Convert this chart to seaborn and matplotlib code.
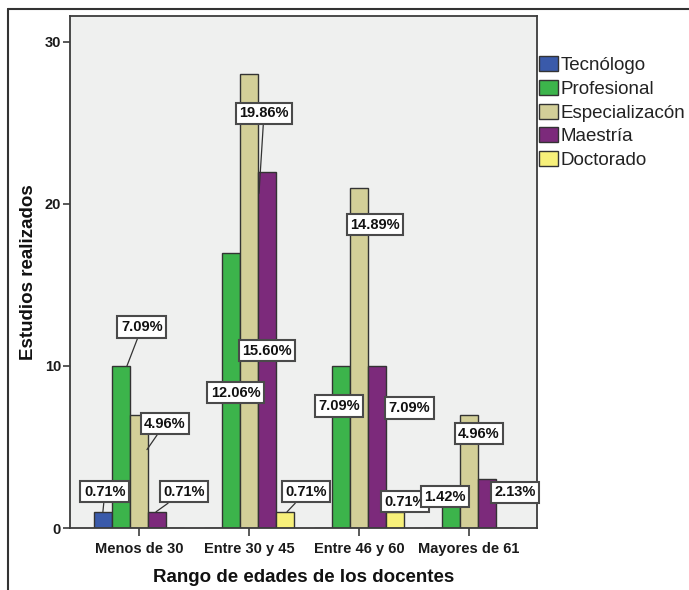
import numpy as np
import pandas as pd
import matplotlib
matplotlib.use("Agg")
import matplotlib.pyplot as plt
import seaborn as sns
from matplotlib.transforms import offset_copy
from matplotlib.lines import Line2D

# ---------------- data ----------------
categorias = ["Menos de 30", "Entre 30 y 45", "Entre 46 y 60", "Mayores de 61"]
niveles = ["Tecnólogo", "Profesional", "Especializacón", "Maestría", "Doctorado"]
tecnologo = [1, 0, 0, 0]
profesional = [10, 17, 10, 2]
especializacion = [7, 28, 21, 7]
maestria = [1, 22, 10, 3]
doctorado = [0, 1, 1, 0]
y_ticks = [0, 10, 20, 30]

series = [tecnologo, profesional, especializacion, maestria, doctorado]
rows = []
for niv, vals in zip(niveles, series):
    for cat, v in zip(categorias, vals):
        rows.append({"rango": cat, "nivel": niv, "n": v})
df = pd.DataFrame(rows)
total = df["n"].sum()

# ---------------- style ----------------
colores = ["#3a5aaa", "#3cb44b", "#d3cf98", "#7c2a7b", "#f7f07a"]
edge = "#333333"

sns.set_style("white")
plt.rcParams["font.family"] = ["Liberation Sans", "DejaVu Sans"]

fig = plt.figure(figsize=(6.89, 5.90), dpi=100)
ax = fig.add_axes([70 / 689, 62 / 590, 467 / 689, 512 / 590])
ax.set_facecolor("#eff0ef")

sns.barplot(data=df, x="rango", y="n", hue="nivel", order=categorias,
            hue_order=niveles, palette=colores, width=0.82, saturation=1,
            edgecolor=edge, linewidth=1.0, errorbar=None, legend=False, ax=ax)

ax.set_xlim(-0.627, 3.618)
ax.set_ylim(0, 31.6)
ax.set_yticks(y_ticks)
for s in ax.spines.values():
    s.set_visible(True)
    s.set_color("#3c3c3c")
    s.set_linewidth(1.3)
ax.tick_params(axis="both", which="both", direction="out", bottom=True,
               left=True, width=1.2, color="#3c3c3c", labelsize=10.5,
               labelcolor="#1a1a1a")
ax.tick_params(axis="y", length=5, pad=1.5)
ax.tick_params(axis="x", length=5.8, pad=4.2)
for t in ax.get_xticklabels() + ax.get_yticklabels():
    t.set_fontweight("bold")
ax.set_xlabel("Rango de edades de los docentes", fontsize=13.5,
              fontweight="bold", color="#111111", labelpad=9.5)
ax.set_ylabel("Estudios realizados", fontsize=13.5, fontweight="bold",
              color="#111111", labelpad=5.5)

# ---------------- percent labels ----------------
# label box offsets (pixels, y up) relative to bar top centre
offsets = {
    (0, 0): (2, 20), (0, 1): (21, 39), (0, 2): (26, -9), (0, 3): (27, 20),
    (1, 1): (5, -140), (1, 2): (15, -39), (1, 3): (0, -179), (1, 4): (21, 20),
    (2, 1): (-2, -40), (2, 2): (16, -37), (2, 3): (32, -42), (2, 4): (10, 10),
    (3, 1): (-6, -1), (3, 2): (10, -19), (3, 3): (28, -13),
}
# leader-line end points (pixels) relative to bar top centre
leaders = {
    (0, 0): (0, 0), (0, 1): (6, 0), (0, 2): (8, -35), (0, 3): (-1, 0),
    (1, 2): (10, -119), (1, 4): (2, 0),
}
box = dict(boxstyle="square,pad=0.25", fc="white", ec="#4a4a4a", lw=1.5)

for ci, cat in enumerate(categorias):
    for hi, niv in enumerate(niveles):
        bars = sorted(ax.containers[hi].patches, key=lambda p: p.get_x())
        bar = bars[ci]
        h = bar.get_height()
        if h <= 0:
            continue
        xc = bar.get_x() + bar.get_width() / 2
        txt = f"{h / total * 100:.2f}%"
        tdx, tdy = offsets.get((ci, hi), (0, 10))
        if (ci, hi) in leaders:
            ldx, ldy = leaders[(ci, hi)]
            trans = offset_copy(ax.transData, fig=fig, x=ldx, y=ldy, units="dots")
            ax.annotate(txt, xy=(xc, h), xycoords=trans,
                        xytext=(tdx - ldx, tdy - ldy), textcoords="offset pixels",
                        ha="center", va="center", fontsize=10.5, fontweight="bold",
                        color="#111111", bbox=box, annotation_clip=False,
                        arrowprops=dict(arrowstyle="-", color="#333333", lw=0.9,
                                        shrinkA=0, shrinkB=0), zorder=5)
        else:
            ax.annotate(txt, xy=(xc, h), xytext=(tdx, tdy),
                        textcoords="offset pixels", ha="center", va="center",
                        fontsize=10.5, fontweight="bold", color="#111111",
                        bbox=box, annotation_clip=False, zorder=5)

# ---------------- legend ----------------
leg = fig.legend(handles=list(ax.containers), labels=niveles, loc="upper left",
                 bbox_to_anchor=(539 / 689, 1 - 56 / 590), frameon=False,
                 fontsize=13.5, handlelength=1.0, handleheight=0.85,
                 handletextpad=0.15, labelspacing=0.31, borderpad=0,
                 borderaxespad=0)
for t in leg.get_texts():
    t.set_color("#222222")

# ---------------- outer frame ----------------
fig.add_artist(Line2D([8 / 689, 1.0], [1 - 9 / 590, 1 - 9 / 590],
                      transform=fig.transFigure, color="#333333", lw=1.5))
fig.add_artist(Line2D([8 / 689, 8 / 689], [0.0, 1 - 9 / 590],
                      transform=fig.transFigure, color="#333333", lw=1.5))

fig.savefig("out.png", dpi=100, facecolor="white")
